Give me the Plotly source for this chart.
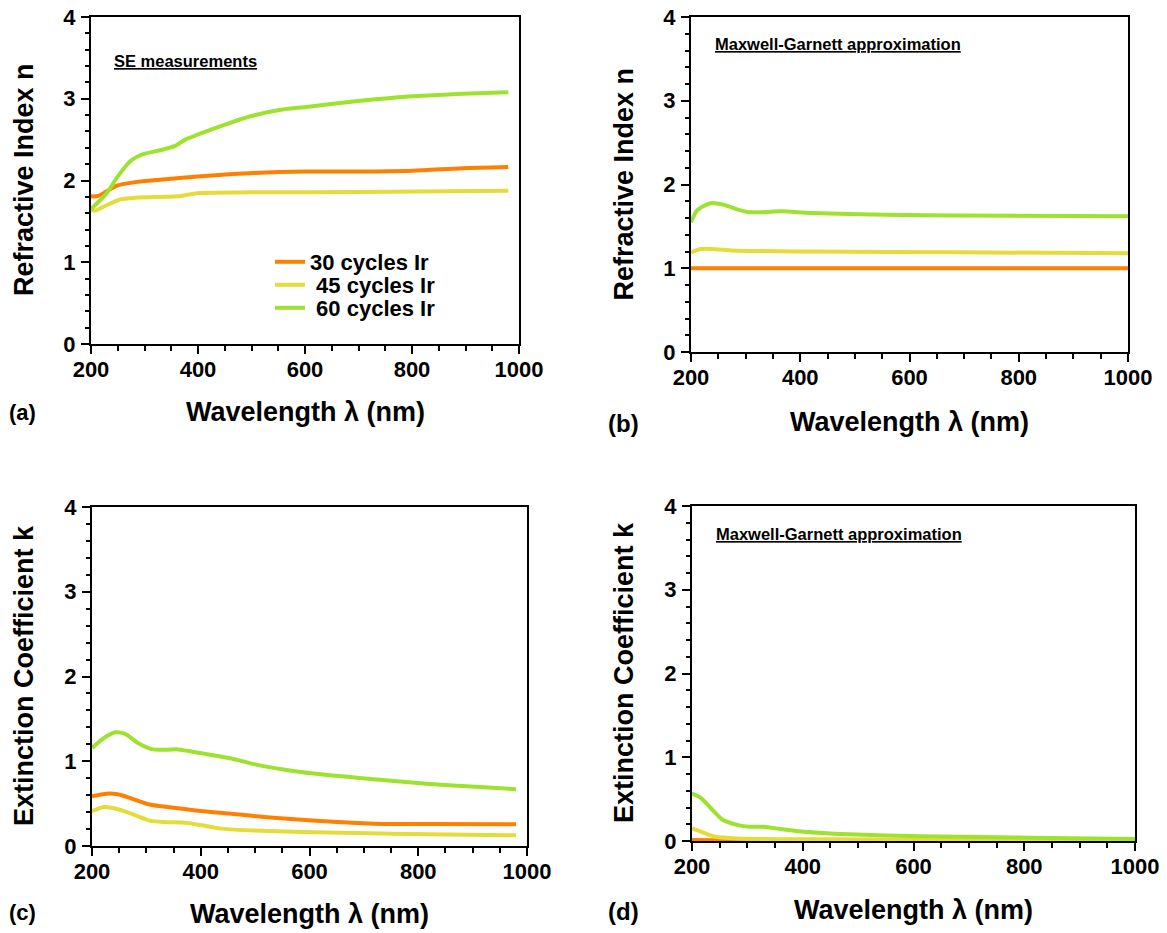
import plotly.graph_objects as go

# ---------------- data ----------------
# (a) SE measurements, refractive index n
a30_x = [200, 213, 230, 250, 283, 329, 399, 495, 602, 695, 801, 894, 980]
a30_y = [1.806, 1.81, 1.87, 1.94, 1.98, 2.01, 2.05, 2.09, 2.11, 2.11, 2.12, 2.15, 2.165]
a45_x = [200, 210, 230, 256, 283, 343, 363, 402, 495, 695, 980]
a45_y = [1.635, 1.635, 1.70, 1.77, 1.79, 1.80, 1.806, 1.847, 1.855, 1.86, 1.875]
a60_x = [200, 230, 250, 276, 296, 329, 356, 376, 399, 449, 495, 549, 602, 695, 761, 801, 894, 980]
a60_y = [1.65, 1.85, 2.05, 2.25, 2.32, 2.37, 2.42, 2.50, 2.56, 2.68, 2.78, 2.86, 2.90, 2.97, 3.01, 3.03, 3.06, 3.08]

# (b) Maxwell-Garnett, refractive index n
b30_x = [200, 400, 600, 800, 1000]
b30_y = [1.0, 1.0, 1.0, 1.0, 1.0]
b45_x = [200, 218, 238, 286, 420, 690, 1000]
b45_y = [1.19, 1.23, 1.23, 1.21, 1.20, 1.19, 1.18]
b60_x = [200, 211, 225, 238, 259, 286, 306, 333, 366, 420, 555, 690, 1000]
b60_y = [1.55, 1.69, 1.75, 1.78, 1.76, 1.70, 1.67, 1.67, 1.68, 1.66, 1.64, 1.63, 1.62]

# (c) SE measurements, extinction coefficient k
c30_x = [200, 227, 247, 273, 306, 339, 391, 456, 522, 620, 718, 816, 980]
c30_y = [0.586, 0.617, 0.61, 0.56, 0.49, 0.46, 0.42, 0.38, 0.34, 0.295, 0.264, 0.26, 0.256]
c45_x = [200, 221, 241, 273, 306, 332, 371, 397, 437, 489, 587, 685, 816, 980]
c45_y = [0.41, 0.46, 0.445, 0.38, 0.30, 0.283, 0.275, 0.25, 0.205, 0.185, 0.165, 0.153, 0.138, 0.126]
c60_x = [200, 221, 241, 260, 286, 312, 339, 358, 378, 406, 458, 502, 555, 608, 687, 750, 815, 881, 980]
c60_y = [1.156, 1.27, 1.34, 1.325, 1.21, 1.14, 1.137, 1.14, 1.12, 1.09, 1.03, 0.96, 0.90, 0.855, 0.806, 0.77, 0.735, 0.708, 0.67]

# (d) Maxwell-Garnett, extinction coefficient k
d30_x = [200, 250, 400, 600, 800, 1000]
d30_y = [0.012, 0.01, 0.006, 0.005, 0.005, 0.005]
d45_x = [200, 217, 243, 283, 416, 681, 1000]
d45_y = [0.15, 0.11, 0.05, 0.03, 0.02, 0.015, 0.012]
d60_x = [200, 217, 237, 256, 283, 303, 329, 363, 402, 482, 615, 814, 1000]
d60_y = [0.57, 0.51, 0.37, 0.25, 0.19, 0.17, 0.17, 0.14, 0.11, 0.08, 0.056, 0.04, 0.025]

series_names = ["30 cycles Ir", "\u00a045 cycles Ir", "\u00a060 cycles Ir"]
x_tick_vals = [200, 400, 600, 800, 1000]
y_tick_vals = [0, 1, 2, 3, 4]

# ---------------- styling ----------------
COLORS = ["#FF8000", "#E5DB3B", "#9DE22E"]
FONT = "Liberation Sans, Arial, sans-serif"
W, H = 1167, 933

# panel pixel boxes: left, right, top, bottom
boxes = [(91, 519, 17, 344), (691, 1128, 17, 352), (92, 527, 507, 846), (692, 1135, 506, 841)]

panels = [
    [(a30_x, a30_y), (a45_x, a45_y), (a60_x, a60_y)],
    [(b30_x, b30_y), (b45_x, b45_y), (b60_x, b60_y)],
    [(c30_x, c30_y), (c45_x, c45_y), (c60_x, c60_y)],
    [(d30_x, d30_y), (d45_x, d45_y), (d60_x, d60_y)],
]
legend_ids = ["legend", "legend2", "legend3"]

fig = go.Figure()
for p, series in enumerate(panels):
    suf = "" if p == 0 else str(p + 1)
    for s, (xs, ys) in enumerate(series):
        fig.add_trace(go.Scatter(
            x=xs, y=ys, mode="lines", name=series_names[s],
            line=dict(color=COLORS[s], width=4, shape="spline", smoothing=0.7),
            xaxis="x" + suf, yaxis="y" + suf,
            showlegend=(p == 0), legend=legend_ids[s],
        ))

tickfont = dict(family=FONT, size=22, color="black", weight="bold")
layout = dict(
    width=W, height=H, margin=dict(l=0, r=0, t=0, b=0),
    paper_bgcolor="white", plot_bgcolor="white",
    font=dict(family=FONT, color="black"),
)

for p, (l, r, t, b) in enumerate(boxes):
    n = p + 1
    suf = "" if n == 1 else str(n)
    xdom = [l / W, r / W]
    ydom = [1 - b / H, 1 - t / H]
    layout["xaxis" + suf] = dict(
        domain=xdom, anchor="y" + suf, range=[200, 1000], automargin=False,
        tickvals=x_tick_vals, ticks="outside", ticklen=8, tickwidth=1.5, tickcolor="black",
        minor=dict(ticks="outside", tick0=200, dtick=50, ticklen=5, tickwidth=1.5, tickcolor="black"),
        showline=True, linewidth=2, linecolor="black", mirror=True,
        showgrid=False, zeroline=False, tickfont=tickfont, ticklabelstandoff=-3,
    )
    layout["yaxis" + suf] = dict(
        domain=ydom, anchor="x" + suf, range=[0, 4], automargin=False,
        tickvals=y_tick_vals, ticks="outside", ticklen=8, tickwidth=1.5, tickcolor="black",
        minor=dict(ticks="outside", tick0=0, dtick=0.2, ticklen=4, tickwidth=1.5, tickcolor="black"),
        showline=True, linewidth=2, linecolor="black", mirror=True,
        showgrid=False, zeroline=False, tickfont=tickfont, ticklabelstandoff=1,
    )
    # inside ticks on top and right edges
    layout["xaxis" + str(n + 4)] = dict(
        overlaying="x" + suf, anchor="y" + suf, side="top", range=[200, 1000], automargin=False,
        tickvals=x_tick_vals, ticks="inside", ticklen=7, tickwidth=1.5, tickcolor="black",
        minor=dict(ticks="inside", tick0=200, dtick=50, ticklen=4, tickwidth=1.5, tickcolor="black"),
        showticklabels=False, showline=False, showgrid=False, zeroline=False,
    )
    layout["yaxis" + str(n + 4)] = dict(
        overlaying="y" + suf, anchor="x" + suf, side="right", range=[0, 4], automargin=False,
        tickvals=y_tick_vals, ticks="inside", ticklen=7, tickwidth=1.5, tickcolor="black",
        minor=dict(ticks="inside", tick0=0, dtick=0.2, ticklen=4, tickwidth=1.5, tickcolor="black"),
        showticklabels=False, showline=False, showgrid=False, zeroline=False,
    )

legend_font = dict(family=FONT, size=22, color="black", weight="bold")
for lid, cy in zip(legend_ids, [262, 285, 308]):
    layout[lid] = dict(
        x=270 / W, y=1 - cy / H, xanchor="left", yanchor="middle",
        bgcolor="rgba(0,0,0,0)", borderwidth=0, font=legend_font, itemwidth=30,
    )

title_font = dict(family=FONT, size=27, color="black", weight="bold")
note_font = dict(family=FONT, size=16.5, color="black", weight="bold")

annotations = []
# x axis titles
for cx, cy in [(305, 412), (909.5, 422), (309.5, 914), (913.5, 910)]:
    annotations.append(dict(text="Wavelength λ (nm)", x=cx / W, y=1 - cy / H, xref="paper", yref="paper",
                            xanchor="center", yanchor="middle", showarrow=False, font=title_font))
# y axis titles
for txt, cx, cy in [("Refractive Index n", 24, 180), ("Refractive Index n", 623, 184.5),
                    ("Extinction Coefficient k", 24, 676), ("Extinction Coefficient k", 624, 673)]:
    annotations.append(dict(text=txt, x=cx / W, y=1 - cy / H, xref="paper", yref="paper", textangle=-90,
                            xanchor="center", yanchor="middle", showarrow=False, font=title_font))
# panel labels
for txt, lx, cy, fs in [("(a)", 7, 412, 22), ("(b)", 606, 423, 24), ("(c)", 7, 912, 22), ("(d)", 606, 911, 24)]:
    annotations.append(dict(text=txt, x=lx / W, y=1 - cy / H, xref="paper", yref="paper",
                            xanchor="left", yanchor="middle", showarrow=False,
                            font=dict(family=FONT, size=fs, color="black", weight="bold")))
# in-panel notes
for txt, lx, cy in [("SE measurements", 112, 61), ("Maxwell-Garnett approximation", 713, 44),
                    ("Maxwell-Garnett approximation", 714, 534)]:
    annotations.append(dict(text="<u>" + txt + "</u>", x=lx / W, y=1 - cy / H, xref="paper", yref="paper",
                            xanchor="left", yanchor="middle", showarrow=False, font=note_font))
layout["annotations"] = annotations

fig.update_layout(**layout)
# remove the browser's default 8px body margin so the figure sits at the page origin
fig.write_html("out.html", config={"displayModeBar": False},
               post_script="document.body.style.margin='0';document.body.style.overflow='hidden';")
